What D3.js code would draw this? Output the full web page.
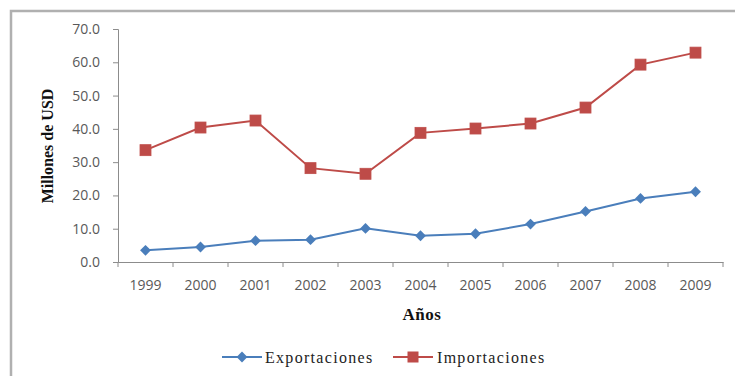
<!DOCTYPE html>
<html>
<head>
<meta charset="utf-8">
<script src="https://cdn.jsdelivr.net/npm/d3@7"></script>
<style>
  html, body { margin: 0; padding: 0; background: #fff; }
  svg { display: block; }
</style>
</head>
<body>
<svg id="chart" width="735" height="376"></svg>
<script>
// Years on the horizontal axis
const years = ["1999", "2000", "2001", "2002", "2003", "2004", "2005", "2006", "2007", "2008", "2009"];
// Millions of USD
const exportaciones = [3.5, 4.5, 6.4, 6.7, 10.1, 7.9, 8.5, 11.4, 15.2, 19.1, 21.1];
const importaciones = [33.6, 40.4, 42.5, 28.2, 26.5, 38.8, 40.1, 41.6, 46.4, 59.3, 62.9];
// Value axis ticks
const yTicks = [0, 10, 20, 30, 40, 50, 60, 70];
const seriesNames = ["Exportaciones", "Importaciones"];

const svg = d3.select("#chart");
const blue = "#4a7ebb", red = "#be4b48";
const axisColor = "#8c8c8c", labelColor = "#595959";
const sansFont = "'Open Sans', 'DejaVu Sans', sans-serif";
const serifFont = "'Liberation Serif', 'DejaVu Serif', serif";

// outer frame
svg.append("path")
  .attr("d", "M11,376 L11,11 L735,11")
  .attr("fill", "none").attr("stroke", "#b0b0b0").attr("stroke-width", 2.5);

const plot = { left: 118, right: 723, top: 29, bottom: 262 };

const x = d3.scaleBand().domain(years).range([plot.left, plot.right]).padding(0);
const y = d3.scaleLinear().domain([0, 70]).range([plot.bottom, plot.top]);

// y axis
const yAxis = d3.axisLeft(y).tickValues(yTicks).tickSize(5).tickPadding(13)
  .tickFormat(d3.format(".1f"));
const gy = svg.append("g").attr("transform", `translate(${plot.left},0)`).call(yAxis);
gy.select(".domain").attr("stroke", axisColor);
gy.selectAll(".tick line").attr("stroke", axisColor);
gy.selectAll(".tick text").attr("fill", labelColor)
  .style("font-family", sansFont).style("font-size", "14px");

// x axis, ticks between categories
const xAxis = d3.axisBottom(x).tickSize(0).tickPadding(18);
const gx = svg.append("g").attr("transform", `translate(0,${plot.bottom})`).call(xAxis);
gx.select(".domain").attr("stroke", axisColor);
gx.selectAll(".tick text").attr("fill", labelColor)
  .style("font-family", sansFont).style("font-size", "14px");
const boundaries = years.map(d => x(d)).concat([x(years[years.length - 1]) + x.bandwidth()]);
gx.selectAll(".sep").data(boundaries).enter().append("line")
  .attr("x1", d => d).attr("x2", d => d).attr("y1", 0).attr("y2", 5)
  .attr("stroke", axisColor);

// axis titles
svg.append("text")
  .attr("transform", `translate(53,146) rotate(-90)`)
  .attr("text-anchor", "middle")
  .style("font-family", serifFont).style("font-weight", "bold").style("font-size", "16px")
  .attr("fill", "#111")
  .text("Millones de USD");

svg.append("text")
  .attr("x", 422).attr("y", 320)
  .attr("text-anchor", "middle")
  .style("font-family", serifFont).style("font-weight", "bold").style("font-size", "17px")
  .style("letter-spacing", "0.5px")
  .attr("fill", "#111")
  .text("Años");

const cx = d => x(d) + x.bandwidth() / 2;
const line = d3.line().x((d, i) => cx(years[i])).y(d => y(d));

// Importaciones
svg.append("path").datum(importaciones)
  .attr("d", line).attr("fill", "none").attr("stroke", red).attr("stroke-width", 2);
svg.selectAll(".imp").data(importaciones).enter().append("rect")
  .attr("x", (d, i) => cx(years[i]) - 5.5).attr("y", d => y(d) - 5.5)
  .attr("width", 11).attr("height", 11)
  .attr("fill", red).attr("stroke", "#c0504d").attr("stroke-width", 0.8);

// Exportaciones
svg.append("path").datum(exportaciones)
  .attr("d", line).attr("fill", "none").attr("stroke", blue).attr("stroke-width", 2);
const diamond = d3.symbol().type(d3.symbolDiamond2).size(75);
svg.selectAll(".exp").data(exportaciones).enter().append("path")
  .attr("d", diamond)
  .attr("transform", (d, i) => `translate(${cx(years[i])},${y(d)})`)
  .attr("fill", blue);

// legend
const legY = 357;
const leg1 = svg.append("g");
leg1.append("line").attr("x1", 222).attr("x2", 262).attr("y1", legY).attr("y2", legY)
  .attr("stroke", blue).attr("stroke-width", 2);
leg1.append("path").attr("d", diamond).attr("transform", `translate(242,${legY})`).attr("fill", blue);
leg1.append("text").attr("x", 265).attr("y", legY + 6)
  .style("font-family", serifFont).style("font-size", "16px").attr("fill", "#222")
  .style("letter-spacing", "1.3px")
  .text(seriesNames[0]);

const leg2 = svg.append("g");
leg2.append("line").attr("x1", 393).attr("x2", 433).attr("y1", legY).attr("y2", legY)
  .attr("stroke", red).attr("stroke-width", 2);
leg2.append("rect").attr("x", 407.5).attr("y", legY - 5.5).attr("width", 11).attr("height", 11)
  .attr("fill", red);
leg2.append("text").attr("x", 437).attr("y", legY + 6)
  .style("font-family", serifFont).style("font-size", "16px").attr("fill", "#222")
  .style("letter-spacing", "1.3px")
  .text(seriesNames[1]);
</script>
</body>
</html>
